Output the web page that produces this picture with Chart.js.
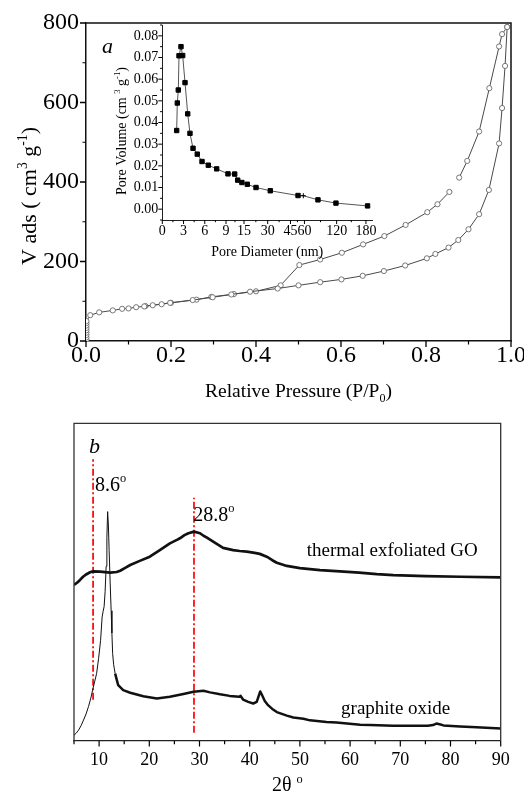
<!DOCTYPE html>
<html><head><meta charset="utf-8">
<script src="https://cdn.jsdelivr.net/npm/chart.js@4/dist/chart.umd.min.js"></script>
<style>
html,body{margin:0;padding:0;background:#fff;}
#wrap{position:relative;width:524px;height:802px;overflow:hidden;background:#fff;}
canvas{position:absolute;}
</style></head><body>
<div id="wrap">
<canvas id="c1" style="left:0px;top:0px" width="524" height="410"></canvas>
<canvas id="c2" style="left:95px;top:15px" width="285" height="250"></canvas>
<canvas id="c3" style="left:0px;top:410px" width="524" height="392"></canvas>
</div>
<script>
// ================= DATA =================
// (a) N2 isotherm
const adsP = [0.001,0.001,0.001,0.001,0.001,0.001,0.001,0.001,0.001,0.010,0.031,0.063,0.085,0.100,0.118,0.137,0.157,0.178,0.198,0.251,0.298,0.342,0.386,0.451,0.500,0.551,0.601,0.651,0.701,0.751,0.802,0.822,0.853,0.876,0.900,0.925,0.948,0.972,0.979,0.986,0.991];
const adsV = [3,9,15,21,27,33,39,45,50,65,72,77,81,82,85,87,90,92.5,96,103,110,117,124,132,140,148,155,164,176,190,208,219,235,254,281,319,380,497,586,692,790];
const desP = [0.991,0.979,0.972,0.949,0.925,0.897,0.878,0.866,0.855,0.827,0.803,0.752,0.702,0.652,0.602,0.551,0.502,0.458,0.400,0.348,0.295,0.260,0.200,0.140];
const desV = [790,772,741,636,527,453,411,null,375,344,324,292,264,243,222,205,191,140,125,118,111,104,96,88];
const isoXTicks = [0,0.2,0.4,0.6,0.8,1.0];
const isoXMinor = [0.1,0.3,0.5,0.7,0.9];
const isoYTicks = [0,200,400,600,800];
const isoYMinor = [100,300,500,700];

// inset: pore size distribution
const poreD = [2.03,2.12,2.26,2.36,2.64,2.88,3.21,3.59,3.91,4.34,4.94,5.61,6.50,7.68,9.66,11.9,12.9,14.3,17.1,22.6,31.7,53.1,58.8,85.2,118.7,183.3];
const poreV = [0.0363,0.049,0.055,0.0708,0.075,0.0709,0.0584,0.044,0.035,0.0281,0.0254,0.022,0.0203,0.0186,0.0163,0.0162,0.0134,0.0123,0.0115,0.0100,0.0085,0.0063,0.0062,0.0043,0.0028,0.0015];
const poreTickNm = [0,3,6,9,15,30,45,60,120,180];
const poreTickLabels = ['0','3','6','9','15','30','45','60','120','180'];
const poreTickAxis = [0,3,6,9,11.54,14.89,18.11,20.08,24.63,28.77]; // broken-axis scale coordinates of the tick values
const poreYTicks = [0,0.01,0.02,0.03,0.04,0.05,0.06,0.07,0.08];

// (b) XRD
const teX = [5.0,5.6,6.2,6.8,7.5,8.2,8.8,10.2,12.2,13.5,14.2,15.2,16.2,18.1,20.1,22.1,24.1,25.5,26.1,27.0,27.8,28.9,30.1,30.8,31.4,32.8,34.7,36.7,38.0,39.4,41.0,42.0,43.4,44.5,45.4,47.4,50.0,54.0,58.0,61.8,65.3,68.6,75.0,82.0,90.0];
const teY = [49.1,49.8,50.7,51.7,52.5,53.1,53.4,53.3,53.0,53.2,53.6,54.5,55.4,56.7,58.0,60.1,62.2,63.3,63.8,64.8,65.4,65.9,65.4,64.6,64.1,62.7,60.8,60.1,59.8,59.6,59.2,58.9,58.0,56.9,56.1,55.1,54.4,53.8,53.4,53.0,52.5,52.2,51.9,51.7,51.5];
const goX = [5.0,5.4,5.9,6.4,6.9,7.4,7.9,8.4,8.7,9.1,9.5,9.9,10.3,10.6,10.8,11.0,11.2,11.4,11.55,11.7,11.85,12.0,12.2,12.4,12.55,12.7,12.9,13.2,13.8,14.8,16.2,18.8,21.5,24.1,26.8,28.8,30.8,32.1,34.1,36.0,37.9,38.2,38.7,39.7,40.7,41.4,41.8,42.1,42.5,43.0,43.7,44.5,45.4,47.4,48.7,50.7,52.0,55.3,57.3,62.0,64.0,68.6,72.0,75.5,76.5,77.2,78.0,78.6,81.9,85.2,90.0];
const goY = [1.8,2.4,3.4,4.8,6.6,8.5,10.9,13.8,16.0,18.6,21.2,26.0,31.7,39.0,40.8,42.3,47.0,55.0,64.0,72.2,68.0,60.0,50.0,41.0,34.0,27.5,24.0,21.2,17.6,16.0,15.2,14.1,13.4,13.9,14.8,15.5,15.8,15.3,14.7,14.2,13.9,14.2,13.0,12.3,11.8,12.3,14.2,15.6,14.3,12.6,11.2,10.1,9.1,8.0,7.4,7.0,6.5,6.0,5.8,5.1,5.0,4.8,4.8,4.8,5.0,5.5,5.2,4.9,4.6,4.3,3.9];
const goThinUntil = 13.2; // the sharp (001) peak region is drawn as a thin line in the original
const markLine1X = 8.8, markLine1Y = [13, 88.7];
const markLine2X = 28.9, markLine2Y = [2.6, 76.6];
const xrdXTicks = [10,20,30,40,50,60,70,80,90];
const xrdXMinor = [5,15,25,35,45,55,65,75,85];

// ================= HELPERS =================
const FONT = '"Liberation Serif","Times New Roman",Times,serif';
function rich(ctx, parts, size, x, y, align, rot, italic){
  ctx.save();
  ctx.translate(x, y);
  if (rot) ctx.rotate(rot);
  const segs = parts.map(p => {
    const s = (p.sup || p.sub) ? size * 0.62 : size;
    const f = ((italic || p.it) ? 'italic ' : '') + s + 'px ' + FONT;
    ctx.font = f;
    return {t: p.t, f, w: ctx.measureText(p.t).width, dy: p.sup ? -size * 0.42 : (p.sub ? size * 0.25 : 0)};
  });
  const total = segs.reduce((a, s) => a + s.w, 0);
  let cx = align === 'center' ? -total / 2 : 0;
  ctx.fillStyle = '#000'; ctx.textBaseline = 'alphabetic'; ctx.textAlign = 'left';
  for (const s of segs){ ctx.font = s.f; ctx.fillText(s.t, cx, s.dy); cx += s.w; }
  ctx.restore();
}
function tickMarks(ctx, chart, axis, values, len, width){
  const a = chart.chartArea, sc = chart.scales[axis];
  ctx.save(); ctx.strokeStyle = '#000'; ctx.lineWidth = width; ctx.beginPath();
  for (const v of values){
    const p = sc.getPixelForValue(v);
    if (axis === 'x'){ ctx.moveTo(p, a.bottom); ctx.lineTo(p, a.bottom + len); }
    else { ctx.moveTo(a.left - len, p); ctx.lineTo(a.left, p); }
  }
  ctx.stroke(); ctx.restore();
}
function poreAxis(d){
  const n = poreTickNm.length;
  for (let i = 0; i < n - 1; i++){
    if (d <= poreTickNm[i+1]) {
      const t = (d - poreTickNm[i]) / (poreTickNm[i+1] - poreTickNm[i]);
      return poreTickAxis[i] + t * (poreTickAxis[i+1] - poreTickAxis[i]);
    }
  }
  const t = (d - poreTickNm[n-2]) / (poreTickNm[n-1] - poreTickNm[n-2]);
  return poreTickAxis[n-2] + t * (poreTickAxis[n-1] - poreTickAxis[n-2]);
}
function fixTicks(vals){ return s => { s.ticks = vals.map(v => ({value: v})); }; }
const base = {responsive:false, animation:false, devicePixelRatio:1, events:[],
  plugins:{legend:{display:false}, tooltip:{enabled:false}}};

// ================= (a) ISOTHERM =================
new Chart(document.getElementById('c1'), {
  type:'line',
  data:{datasets:[
    {data: adsP.map((p,i)=>({x:p, y:adsV[i]})), borderColor:'#4a4a4a', borderWidth:1, pointRadius:2.6,
     pointBorderColor:'#6a6a6a', pointBackgroundColor:'#fff', pointBorderWidth:0.9, tension:0},
    {data: desP.map((p,i)=>({x:p, y:desV[i]})), borderColor:'#4a4a4a', borderWidth:1, pointRadius:2.6,
     pointBorderColor:'#6a6a6a', pointBackgroundColor:'#fff', pointBorderWidth:0.9, tension:0, spanGaps:false}
  ]},
  options:Object.assign({}, base, {
    layout:{padding:{left:0, top:23, right:13, bottom:0}},
    scales:{
      x:{type:'linear', min:0, max:1, afterBuildTicks:fixTicks(isoXTicks),
         ticks:{font:{family:FONT,size:24}, color:'#000', padding:0, maxRotation:0, autoSkip:false, callback:v=>v.toFixed(1)},
         grid:{display:false, drawTicks:false}, border:{display:true, color:'#111', width:1.5},
         afterFit:s=>{ s.height = 69; s.paddingLeft = 0; s.paddingRight = 0; }},
      y:{type:'linear', min:0, max:800, afterBuildTicks:fixTicks(isoYTicks),
         ticks:{font:{family:FONT,size:24}, color:'#000', padding:7, autoSkip:false},
         grid:{display:false, drawTicks:false}, border:{display:true, color:'#111', width:1.5},
         afterFit:s=>{ s.width = 86; s.paddingTop = 0; s.paddingBottom = 0; }}
    }
  }),
  plugins:[{id:'isoDecor', afterDraw(chart){
    const ctx = chart.ctx, a = chart.chartArea;
    ctx.save(); ctx.strokeStyle = '#111'; ctx.lineWidth = 1.5; ctx.beginPath();
    ctx.moveTo(a.left, a.top); ctx.lineTo(a.right, a.top); ctx.lineTo(a.right, a.bottom); ctx.stroke(); ctx.restore();
    tickMarks(ctx, chart, 'x', isoXTicks, 6, 1.3); tickMarks(ctx, chart, 'x', isoXMinor, 3.5, 1.2);
    tickMarks(ctx, chart, 'y', isoYTicks, 6, 1.3); tickMarks(ctx, chart, 'y', isoYMinor, 3.5, 1.2);
    rich(ctx, [{t:'Relative Pressure (P/P'},{t:'0',sub:true},{t:')'}], 19.5, (a.left + a.right) / 2, a.bottom + 56, 'center');
    rich(ctx, [{t:'V ads ( cm'},{t:'3',sup:true},{t:' g'},{t:'-1',sup:true},{t:')'}], 22, 36, 196, 'center', -Math.PI / 2);
    rich(ctx, [{t:'a'}], 22, chart.scales.x.getPixelForValue(0.0376), chart.scales.y.getPixelForValue(724), 'left', 0, true);
  }}]
});

// ================= INSET =================
new Chart(document.getElementById('c2'), {
  type:'line',
  data:{datasets:[
    {data: poreD.map((d,i)=>({x:poreAxis(d), y:poreV[i]})), borderColor:'#555', borderWidth:1, tension:0,
     pointStyle: poreD.map((d,i)=> i === 22 ? 'cross' : 'rect'), pointRadius: poreD.map((d,i)=> i === 22 ? 2.5 : 3.1),
     pointBackgroundColor:'#000', pointBorderColor:'#000', pointBorderWidth:1}
  ]},
  options:Object.assign({}, base, {
    layout:{padding:{left:0, top:10, right:7.7, bottom:0}},
    scales:{
      x:{type:'linear', min:0, max:poreAxis(193), afterBuildTicks:s=>{ s.ticks = poreTickNm.map(v=>({value:poreAxis(v)})); },
         ticks:{font:{family:FONT,size:14}, color:'#000', padding:3, maxRotation:0, autoSkip:false,
                callback:(v,i)=>poreTickLabels[i]},
         grid:{display:false, drawTicks:false}, border:{display:true, color:'#222', width:1},
         afterFit:s=>{ s.height = 45; s.paddingLeft = 0; s.paddingRight = 0; }},
      y:{type:'linear', min:-0.005, max:0.085, afterBuildTicks:fixTicks(poreYTicks),
         ticks:{font:{family:FONT,size:14}, color:'#000', padding:4, autoSkip:false, callback:v=>v.toFixed(2)},
         grid:{display:false, drawTicks:false}, border:{display:true, color:'#222', width:1},
         afterFit:s=>{ s.width = 67.3; s.paddingTop = 0; s.paddingBottom = 0; }}
    }
  }),
  plugins:[{id:'insetDecor', afterDraw(chart){
    const ctx = chart.ctx, a = chart.chartArea;
    const xMaj = poreTickNm.map(poreAxis), xMin = [];
    for (let i = 0; i < xMaj.length - 1; i++) xMin.push((xMaj[i] + xMaj[i+1]) / 2);
    const yMin = poreYTicks.slice(0, -1).map(v => v + 0.005);
    tickMarks(ctx, chart, 'x', xMaj, 4, 1); tickMarks(ctx, chart, 'x', xMin, 2.2, 1);
    tickMarks(ctx, chart, 'y', poreYTicks, 4, 1); tickMarks(ctx, chart, 'y', yMin.concat([-0.005, 0.085]), 2.2, 1);
    rich(ctx, [{t:'Pore Diameter (nm)'}], 14, (a.left + a.right) / 2, a.bottom + 35.5, 'center');
    rich(ctx, [{t:'Pore Volume (cm '},{t:'3',sup:true},{t:' g'},{t:'-1',sup:true},{t:')'}], 14, 31, 116, 'center', -Math.PI / 2);
  }}]
});

// ================= (b) XRD =================
const goPts = goX.map((x,i)=>({x, y:goY[i]}));
new Chart(document.getElementById('c3'), {
  type:'line',
  data:{datasets:[
    {data: teX.map((x,i)=>({x, y:teY[i]})), borderColor:'#111', borderWidth:2.7, pointRadius:0, tension:0, borderJoinStyle:'round'},
    {data: goPts.filter(p=>p.x <= goThinUntil), borderColor:'#111', borderWidth:1, pointRadius:0, tension:0, borderJoinStyle:'round'},
    {data: goPts.filter(p=>p.x >= goThinUntil), borderColor:'#111', borderWidth:2.5, pointRadius:0, tension:0, borderJoinStyle:'round'},
    {data: markLine1Y.map(y=>({x:markLine1X, y})), borderColor:'#ff1010', borderWidth:1.8, borderDash:[7,2.5,2,2.5], pointRadius:0},
    {data: markLine2Y.map(y=>({x:markLine2X, y})), borderColor:'#ff1010', borderWidth:1.8, borderDash:[7,2.5,2,2.5], pointRadius:0}
  ]},
  options:Object.assign({}, base, {
    layout:{padding:{left:74, top:13.3, right:23.3, bottom:0}},
    scales:{
      x:{type:'linear', min:5, max:90, afterBuildTicks:fixTicks(xrdXTicks),
         ticks:{font:{family:FONT,size:18}, color:'#000', padding:8, maxRotation:0, autoSkip:false},
         grid:{display:false, drawTicks:false}, border:{display:true, color:'#222', width:1.3},
         afterFit:s=>{ s.height = 61; s.paddingLeft = 0; s.paddingRight = 0; }},
      y:{type:'linear', min:0, max:100, display:false}
    }
  }),
  plugins:[{id:'xrdDecor', afterDraw(chart){
    const ctx = chart.ctx, a = chart.chartArea, sx = chart.scales.x, sy = chart.scales.y;
    ctx.save(); ctx.strokeStyle = '#333'; ctx.lineWidth = 1.3; ctx.beginPath();
    ctx.moveTo(a.left, a.bottom); ctx.lineTo(a.left, a.top); ctx.lineTo(a.right, a.top); ctx.lineTo(a.right, a.bottom); ctx.stroke(); ctx.restore();
    tickMarks(ctx, chart, 'x', xrdXTicks, 5.5, 1.2); tickMarks(ctx, chart, 'x', xrdXMinor, 3.2, 1.2);
    rich(ctx, [{t:'2θ '},{t:'o',sup:true}], 20, (a.left + a.right) / 2, a.bottom + 50, 'center');
    rich(ctx, [{t:'b'}], 22, sx.getPixelForValue(7.99), sy.getPixelForValue(90.6), 'left', 0, true);
    rich(ctx, [{t:'8.6'},{t:'o',sup:true}], 20, sx.getPixelForValue(9.18), sy.getPixelForValue(78.8), 'left');
    rich(ctx, [{t:'28.8'},{t:'o',sup:true}], 20, sx.getPixelForValue(28.77), sy.getPixelForValue(69.3), 'left');
    rich(ctx, [{t:'thermal exfoliated GO'}], 19, sx.getPixelForValue(51.35), sy.getPixelForValue(58.2), 'left');
    rich(ctx, [{t:'graphite oxide'}], 19, sx.getPixelForValue(58.2), sy.getPixelForValue(8.5), 'left');
  }}]
});
</script>
</body></html>
